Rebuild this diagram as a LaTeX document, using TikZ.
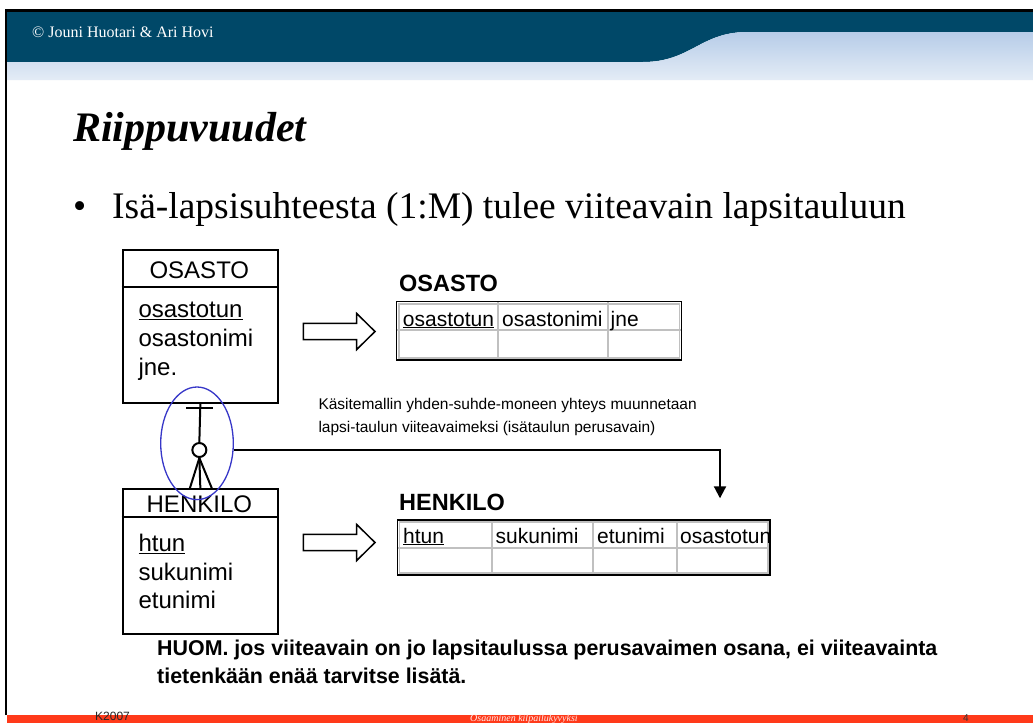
\documentclass[tikz,border=0pt]{standalone}
\usepackage{fontspec}
\setmainfont{Liberation Serif}
\setsansfont{Liberation Sans}
\usetikzlibrary{shapes.geometric,arrows.meta}
\definecolor{hdrteal}{RGB}{0,72,104}
\definecolor{ellblue}{RGB}{55,55,200}
\definecolor{footred}{RGB}{255,58,26}
\definecolor{cellgray}{RGB}{192,192,192}
\definecolor{dottop}{RGB}{182,204,232}
\definecolor{dotbot}{RGB}{228,236,246}
\begin{document}
\begin{tikzpicture}[x=1pt,y=-1pt,
  erbox/.style={draw=black,line width=2pt,inner sep=0pt,fill=white},
  erline/.style={draw=black,line width=2pt},
  erhead/.style={font=\sffamily\fontsize{24}{24}\selectfont,anchor=base,inner sep=0pt},
  ertext/.style={font=\sffamily\fontsize{24}{24}\selectfont,anchor=base west,inner sep=0pt},
  celltext/.style={font=\sffamily\fontsize{21}{21}\selectfont,anchor=base west,inner sep=0pt},
  tabtitle/.style={font=\sffamily\bfseries\fontsize{23.5}{23.5}\selectfont,anchor=base west,inner sep=0pt},
  gridline/.style={draw=cellgray,line width=2.2pt},
  tabframe/.style={draw=black,line width=1.4pt},
  tabinner/.style={draw=cellgray,line width=1.4pt},
  hollow/.style={draw=black,line width=1.5pt,fill=white,line join=miter},
  notetext/.style={font=\sffamily\fontsize{15.5}{15.5}\selectfont,anchor=base west,inner sep=0pt},
  huomtext/.style={font=\sffamily\bfseries\fontsize{21.4}{21.4}\selectfont,anchor=base west,inner sep=0pt},
  fkline/.style={draw=black,line width=2pt},
  foottext/.style={anchor=base west,inner sep=0pt},
  hollowarrow/.pic={\draw[hollow] (0,-8.2) -- (53.4,-8.2) -- (53.4,-18) -- (71.7,0) -- (53.4,18) -- (53.4,8.2) -- (0,8.2) -- cycle;}
]
\useasboundingbox (0,0) rectangle (1033,723);
\fill[white] (0,0) rectangle (1033,723);
% header band
\fill[hdrteal] (7,11) -- (1033,11) -- (1033,32) -- (745,32) .. controls (700,33) and (690,62) .. (643,62) -- (7,62) -- cycle;
\shade[top color=dottop,bottom color=dotbot] (7,62) -- (643,62) .. controls (690,62) and (700,33) .. (745,32) -- (1033,32) -- (1033,80) -- (7,80) -- cycle;
\node[font=\rmfamily\fontsize{16}{16}\selectfont,text=white,anchor=base west,inner sep=0pt] (copy) at (32,37.3) {© Jouni Huotari \& Ari Hovi};
% frame
\draw[black,line width=2.5pt] (6,715) -- (6,10.5) -- (1033,10.5);
% footer
\fill[footred] (7,715) rectangle (1033,723);
\node[foottext,font=\sffamily\fontsize{12}{12}\selectfont,text=black!85] (fyear) at (95,720.5) {K2007};
\node[foottext,font=\rmfamily\itshape\fontsize{10}{10}\selectfont,text=white!90!footred] (fmid) at (470,721.5) {Osaaminen kilpailukyvyksi};
\node[foottext,font=\sffamily\fontsize{10}{10}\selectfont,text=black!80] (fpage) at (963,721.5) {4};
% title and bullet
\node[font=\rmfamily\bfseries\itshape\fontsize{42}{42}\selectfont,anchor=base west,inner sep=0pt] (title) at (73,141) {Riippuvuudet};
\node[font=\rmfamily\fontsize{37.5}{37.5}\selectfont,anchor=base west,inner sep=0pt] (bul) at (73,218) {•};
\node[font=\rmfamily\fontsize{37.5}{37.5}\selectfont,anchor=base west,inner sep=0pt] (btext) at (112,218) {Isä-lapsisuhteesta (1:M) tulee viiteavain lapsitauluun};
% ER entity OSASTO
\node[erbox,minimum width=155.3pt,minimum height=152.4pt,anchor=north west] (osbox) at (121.7,249.3) {};
\draw[erline] (121.7,286.7) -- (277,286.7);
\node[erhead] (oshead) at (199.35,278.3) {OSASTO};
\node[ertext] (os1) at (138.3,317.3) {\underline{osastotun}};
\node[ertext] (os2) at (138.3,346.7) {osastonimi};
\node[ertext] (os3) at (138.3,375) {jne.};
% ER entity HENKILO
\node[erbox,minimum width=155.3pt,minimum height=145pt,anchor=north west] (hebox) at (121.7,488.3) {};
\draw[erline] (121.7,516.7) -- (277,516.7);
\node[erhead] (hehead) at (199.35,512.5) {HENKILO};
\node[ertext] (he1) at (138.3,551.7) {\underline{htun}};
\node[ertext] (he2) at (138.3,580) {sukunimi};
\node[ertext] (he3) at (138.3,608) {etunimi};
% relationship (1:M)
\node[circle,draw=black,line width=2pt,minimum size=14pt,inner sep=0pt] (opt) at (199.35,450) {};
\draw[erline] (osbox.south) -- (opt.north);
\draw[erline] (186,408.3) -- (212.5,408.3);
\draw[erline] (opt.south) -- (hebox.north);
\draw[erline] (opt.south) -- ([xshift=-10.5pt]hebox.north);
\draw[erline] (opt.south) -- ([xshift=11.5pt]hebox.north);
\node[ellipse,draw=ellblue,line width=1.3pt,minimum width=72.6pt,minimum height=112.6pt,inner sep=0pt] (ell) at (197,443.3) {};
% foreign key connector
\coordinate (fktip) at (720,498.3);
\draw[fkline,-{Triangle[length=12pt,width=12pt]}] (ell.-10.5) -| (fktip);
\node[notetext] (note1) at (318.3,409.3) {Käsitemallin yhden-suhde-moneen yhteys muunnetaan};
\node[notetext] (note2) at (318.3,432.3) {lapsi-taulun viiteavaimeksi (isätaulun perusavain)};
% hollow arrows
\pic at (303.3,331.5) {hollowarrow};
\pic at (303.3,542.5) {hollowarrow};
% OSASTO table
\node[tabtitle] (ostitle) at (399,291) {OSASTO};
\draw[gridline] (396.7,330) -- (681.7,330);
\draw[gridline] (498.3,301.7) -- (498.3,360);
\draw[gridline] (607.7,301.7) -- (607.7,360);
\draw[tabinner] (398.8,303.8) rectangle (679.6,357.9);
\draw[tabframe] (396.7,301.7) rectangle (681.7,360);
\node[celltext] (oc1) at (402.7,326) {\underline{osastotun}};
\node[celltext] (oc2) at (502,326) {osastonimi};
\node[celltext] (oc3) at (610.5,326) {jne};
% HENKILO table
\node[tabtitle] (hetitle) at (399,510) {HENKILO};
\draw[gridline] (397.3,548.3) -- (770,548.3);
\draw[gridline] (491.7,520) -- (491.7,575);
\draw[gridline] (593.3,520) -- (593.3,575);
\draw[gridline] (676.7,520) -- (676.7,575);
\draw[tabinner] (399.4,522.1) rectangle (767.9,572.9);
\draw[tabframe] (397.3,520) rectangle (770,575);
\node[celltext] (hc1) at (403,543) {\underline{htun}};
\node[celltext] (hc2) at (495.5,543) {sukunimi};
\node[celltext] (hc3) at (597,543) {etunimi};
\node[celltext] (hc4) at (680,543) {osastotun};
% note
\node[huomtext] (huom1) at (157,655.5) {HUOM. jos viiteavain on jo lapsitaulussa perusavaimen osana, ei viiteavainta};
\node[huomtext] (huom2) at (157,683.5) {tietenkään enää tarvitse lisätä.};
\end{tikzpicture}
\end{document}
